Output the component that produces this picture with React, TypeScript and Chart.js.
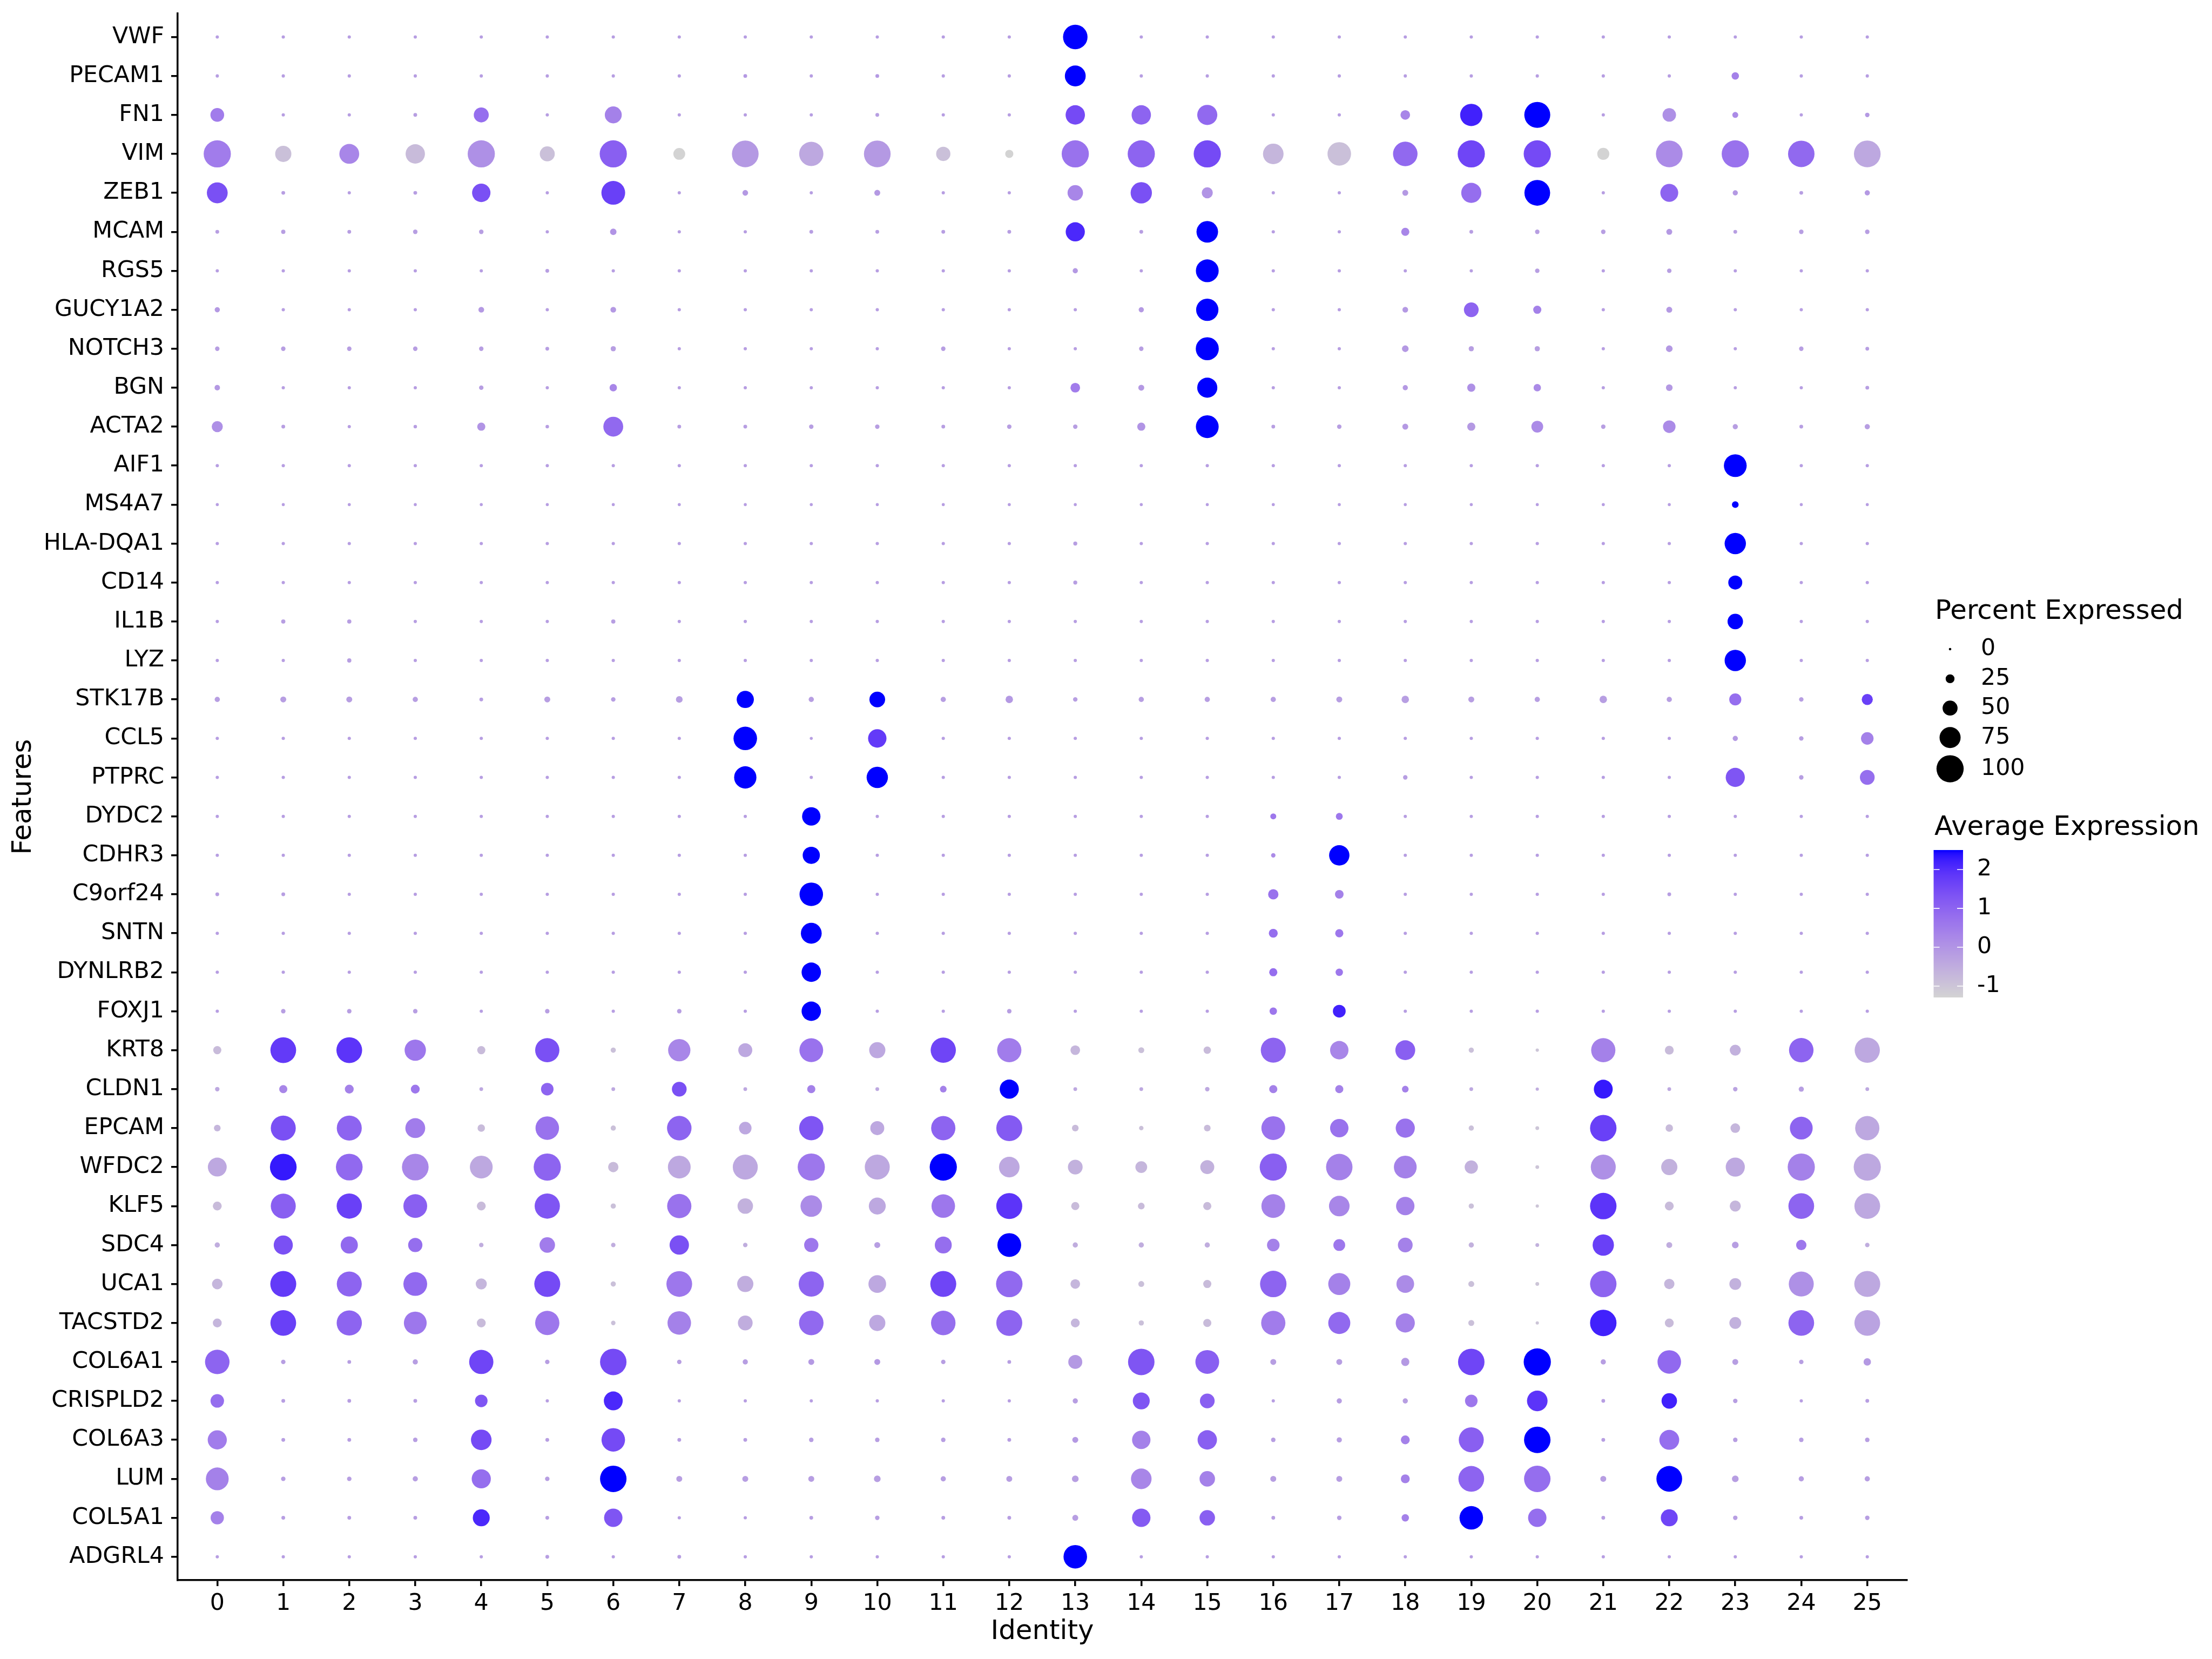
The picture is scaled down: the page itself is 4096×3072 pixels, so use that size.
import React, { useEffect, useRef } from 'react';
import { Chart, registerables } from 'chart.js';

Chart.register(...registerables);

const FONT = "'DejaVu Sans', 'Liberation Sans', sans-serif";

// ---------------- data ----------------
const identities = ['0','1','2','3','4','5','6','7','8','9','10','11','12','13','14','15','16','17','18','19','20','21','22','23','24','25'];
const features = ['VWF','PECAM1','FN1','VIM','ZEB1','MCAM','RGS5','GUCY1A2','NOTCH3','BGN','ACTA2','AIF1','MS4A7','HLA-DQA1','CD14','IL1B','LYZ','STK17B','CCL5','PTPRC','DYDC2','CDHR3','C9orf24','SNTN','DYNLRB2','FOXJ1','KRT8','CLDN1','EPCAM','WFDC2','KLF5','SDC4','UCA1','TACSTD2','COL6A1','CRISPLD2','COL6A3','LUM','COL5A1','ADGRL4'];

// percent expressed / average expression, one value per identity 0..25
const VWF_pct = [2,2,2,2,2,2,2,2,2, 2,2,2,2,89,2,2,2, 2,2,2,2,2,2,2,2,2];
const VWF_avg = [-0.2,-0.2,-0.2,-0.2,-0.2,-0.2,-0.2,-0.2,-0.2, -0.2,-0.2,-0.2,-0.2,2.5,-0.2,-0.2,-0.2, -0.2,-0.2,-0.2,-0.2,-0.2,-0.2,-0.2,-0.2,-0.2];
const PECAM1_pct = [2,2,2,2,2,2,2,2,4, 2,4,2,2,74,2,2,2, 2,2,2,2,2,2,19,2,2];
const PECAM1_avg = [-0.2,-0.2,-0.2,-0.2,-0.2,-0.2,-0.2,-0.2,-0.1, -0.2,-0.1,-0.2,-0.2,2.5,-0.2,-0.2,-0.2, -0.2,-0.2,-0.2,-0.2,-0.2,-0.2,0.4,-0.2,-0.2];
const FN1_pct = [45,2,2,4,50,2,58,2,2, 2,4,2,2,68,68,71,2, 2,28,80,95,2,44,13,2,7];
const FN1_avg = [0.5,-0.2,-0.2,-0.2,0.8,-0.2,0.4,-0.2,-0.2, -0.2,-0.2,-0.2,-0.2,1.5,1.0,0.9,-0.2, -0.2,0.3,2.2,2.5,-0.2,0.1,0.2,-0.2,-0.1];
const VIM_pct = [100,55,70,68,100,50,100,37,98, 88,98,47,22,100,100,100,73, 85,89,100,100,38,98,100,97,98];
const VIM_avg = [0.5,-0.9,0.3,-0.8,0.1,-0.9,1.1,-1.28,-0.1, -0.4,-0.1,-0.9,-1.28,0.7,1.0,1.5,-0.7, -0.9,0.9,1.6,1.5,-1.28,0.2,0.7,0.9,-0.4];
const ZEB1_pct = [74,4,2,4,64,2,86,2,12, 2,13,2,2,52,76,34,2, 2,13,71,94,2,62,10,4,10];
const ZEB1_avg = [1.4,-0.2,-0.2,-0.2,1.4,-0.2,1.7,-0.2,-0.1, -0.2,-0.1,-0.2,-0.2,0.3,1.4,0.0,-0.2, -0.2,-0.1,0.8,2.5,-0.2,1.0,-0.1,-0.2,-0.1];
const MCAM_pct = [4,6,4,7,7,2,15,2,2, 4,4,4,4,67,4,77,2, 2,22,4,7,7,13,4,7,7];
const MCAM_avg = [-0.2,-0.2,-0.2,-0.2,-0.2,-0.2,0.0,-0.2,-0.2, -0.2,-0.2,-0.2,-0.2,2.1,-0.2,2.5,-0.2, -0.2,0.3,-0.2,-0.2,-0.2,-0.1,-0.2,-0.2,-0.2];
const RGS5_pct = [2,2,2,2,2,4,2,2,2, 2,2,2,2,10,2,82,2, 2,2,2,7,2,7,2,2,2];
const RGS5_avg = [-0.2,-0.2,-0.2,-0.2,-0.2,-0.2,-0.2,-0.2,-0.2, -0.2,-0.2,-0.2,-0.2,-0.1,-0.2,2.5,-0.2, -0.2,-0.2,-0.2,-0.2,-0.2,-0.2,-0.2,-0.2,-0.2];
const GUCY1A2_pct = [10,2,2,2,12,2,12,2,2, 2,2,2,2,2,10,80,2, 2,12,49,22,2,13,2,2,2];
const GUCY1A2_avg = [-0.1,-0.2,-0.2,-0.2,-0.1,-0.2,-0.1,-0.2,-0.2, -0.2,-0.2,-0.2,-0.2,-0.2,-0.1,2.5,-0.2, -0.2,-0.1,1.0,0.4,-0.2,-0.1,-0.2,-0.2,-0.2];
const NOTCH3_pct = [7,7,7,7,7,4,10,2,2, 2,2,7,2,2,7,83,2, 2,16,10,10,2,16,2,7,4];
const NOTCH3_avg = [-0.2,-0.2,-0.2,-0.2,-0.2,-0.2,-0.2,-0.2,-0.2, -0.2,-0.2,-0.2,-0.2,-0.2,-0.2,2.5,-0.2, -0.2,-0.1,-0.2,-0.2,-0.2,-0.1,-0.2,-0.2,-0.2];
const BGN_pct = [11,2,2,2,7,2,19,2,2, 2,2,2,2,28,13,71,2, 2,10,22,19,2,16,2,2,4];
const BGN_avg = [-0.1,-0.2,-0.2,-0.2,-0.2,-0.2,0.3,-0.2,-0.2, -0.2,-0.2,-0.2,-0.2,0.5,-0.1,2.5,-0.2, -0.2,-0.1,0.1,0.2,-0.2,-0.1,-0.2,-0.2,-0.2];
const ACTA2_pct = [34,4,2,3,22,3,70,4,4, 7,7,4,7,7,22,82,4, 7,13,22,37,7,40,10,4,10];
const ACTA2_avg = [0.1,-0.2,-0.2,-0.2,0.0,-0.2,0.9,-0.2,-0.2, -0.2,-0.2,-0.2,-0.2,-0.2,0.0,2.5,-0.2, -0.2,-0.1,-0.1,0.2,-0.2,0.2,-0.2,-0.2,-0.2];
const AIF1_pct = [2,2,2,2,2,2,2,2,2, 2,2,2,2,2,2,2,2, 2,2,2,2,2,2,82,2,2];
const AIF1_avg = [-0.2,-0.2,-0.2,-0.2,-0.2,-0.2,-0.2,-0.2,-0.2, -0.2,-0.2,-0.2,-0.2,-0.2,-0.2,-0.2,-0.2, -0.2,-0.2,-0.2,-0.2,-0.2,-0.2,2.5,-0.2,-0.2];
const MS4A7_pct = [1,1,1,1,1,1,1,1,1, 1,1,1,1,1,1,1,1, 1,1,1,1,1,1,16,1,1];
const MS4A7_avg = [-0.2,-0.2,-0.2,-0.2,-0.2,-0.2,-0.2,-0.2,-0.2, -0.2,-0.2,-0.2,-0.2,-0.2,-0.2,-0.2,-0.2, -0.2,-0.2,-0.2,-0.2,-0.2,-0.2,2.5,-0.2,-0.2];
const HLA_DQA1_pct = [2,2,2,2,2,2,2,2,2, 2,2,2,2,5,2,2,2, 2,2,2,2,2,2,76,2,2];
const HLA_DQA1_avg = [-0.2,-0.2,-0.2,-0.2,-0.2,-0.2,-0.2,-0.2,-0.2, -0.2,-0.2,-0.2,-0.2,-0.2,-0.2,-0.2,-0.2, -0.2,-0.2,-0.2,-0.2,-0.2,-0.2,2.5,-0.2,-0.2];
const CD14_pct = [2,2,2,2,2,2,2,2,2, 2,2,2,2,5,2,2,2, 2,2,2,2,2,2,46,2,2];
const CD14_avg = [-0.2,-0.2,-0.2,-0.2,-0.2,-0.2,-0.2,-0.2,-0.2, -0.2,-0.2,-0.2,-0.2,-0.2,-0.2,-0.2,-0.2, -0.2,-0.2,-0.2,-0.2,-0.2,-0.2,2.5,-0.2,-0.2];
const IL1B_pct = [2,6,6,2,2,2,6,2,2, 2,2,2,2,2,2,2,2, 2,2,2,2,2,2,52,2,2];
const IL1B_avg = [-0.2,-0.2,-0.2,-0.2,-0.2,-0.2,-0.2,-0.2,-0.2, -0.2,-0.2,-0.2,-0.2,-0.2,-0.2,-0.2,-0.2, -0.2,-0.2,-0.2,-0.2,-0.2,-0.2,2.5,-0.2,-0.2];
const LYZ_pct = [2,2,6,2,2,2,2,2,2, 2,2,2,2,2,2,2,2, 2,2,2,2,2,2,76,2,2];
const LYZ_avg = [-0.2,-0.2,-0.2,-0.2,-0.2,-0.2,-0.2,-0.2,-0.2, -0.2,-0.2,-0.2,-0.2,-0.2,-0.2,-0.2,-0.2, -0.2,-0.2,-0.2,-0.2,-0.2,-0.2,2.5,-0.2,-0.2];
const STK17B_pct = [10,13,13,10,4,13,7,16,59, 10,53,10,19,7,10,10,10, 13,19,13,10,19,10,38,7,34];
const STK17B_avg = [-0.2,-0.2,-0.2,-0.2,-0.2,-0.2,-0.2,-0.2,2.5, -0.2,2.5,-0.2,-0.1,-0.2,-0.2,-0.2,-0.2, -0.2,-0.2,-0.2,-0.2,-0.2,-0.2,0.8,-0.2,1.7];
const CCL5_pct = [2,2,2,2,2,2,2,2,85, 1,64,2,2,2,2,2,2, 2,2,2,2,2,2,10,7,40];
const CCL5_avg = [-0.2,-0.2,-0.2,-0.2,-0.2,-0.2,-0.2,-0.2,2.5, -0.2,1.8,-0.2,-0.2,-0.2,-0.2,-0.2,-0.2, -0.2,-0.2,-0.2,-0.2,-0.2,-0.2,-0.1,-0.2,0.4];
const PTPRC_pct = [2,2,2,2,2,2,2,2,80, 2,76,2,2,2,2,2,2, 2,7,2,2,2,2,67,7,49];
const PTPRC_avg = [-0.2,-0.2,-0.2,-0.2,-0.2,-0.2,-0.2,-0.2,2.5, -0.2,2.5,-0.2,-0.2,-0.2,-0.2,-0.2,-0.2, -0.2,-0.2,-0.2,-0.2,-0.2,-0.2,1.3,-0.2,0.8];
const DYDC2_pct = [2,2,2,2,2,2,2,2,2, 64,2,2,2,2,2,2,13, 17,2,2,2,2,2,2,2,2];
const DYDC2_avg = [-0.2,-0.2,-0.2,-0.2,-0.2,-0.2,-0.2,-0.2,-0.2, 2.5,-0.2,-0.2,-0.2,-0.2,-0.2,-0.2,0.6, 0.6,-0.2,-0.2,-0.2,-0.2,-0.2,-0.2,-0.2,-0.2];
const CDHR3_pct = [2,2,2,2,2,2,2,2,2, 59,2,2,2,2,2,2,7, 72,2,2,2,2,2,2,2,2];
const CDHR3_avg = [-0.2,-0.2,-0.2,-0.2,-0.2,-0.2,-0.2,-0.2,-0.2, 2.5,-0.2,-0.2,-0.2,-0.2,-0.2,-0.2,0.2, 2.5,-0.2,-0.2,-0.2,-0.2,-0.2,-0.2,-0.2,-0.2];
const C9orf24_pct = [4,4,2,2,2,2,2,2,2, 85,2,2,2,2,2,2,31, 24,2,2,2,2,4,2,2,2];
const C9orf24_avg = [-0.2,-0.2,-0.2,-0.2,-0.2,-0.2,-0.2,-0.2,-0.2, 2.5,-0.2,-0.2,-0.2,-0.2,-0.2,-0.2,0.7, 0.4,-0.2,-0.2,-0.2,-0.2,-0.2,-0.2,-0.2,-0.2];
const SNTN_pct = [2,2,2,2,2,2,2,2,2, 74,2,2,2,2,2,2,25, 22,2,2,2,2,2,2,2,2];
const SNTN_avg = [-0.2,-0.2,-0.2,-0.2,-0.2,-0.2,-0.2,-0.2,-0.2, 2.5,-0.2,-0.2,-0.2,-0.2,-0.2,-0.2,0.8, 0.6,-0.2,-0.2,-0.2,-0.2,-0.2,-0.2,-0.2,-0.2];
const DYNLRB2_pct = [2,2,2,2,2,2,2,2,2, 68,2,2,2,2,2,2,22, 19,2,2,2,2,2,2,2,2];
const DYNLRB2_avg = [-0.2,-0.2,-0.2,-0.2,-0.2,-0.2,-0.2,-0.2,-0.2, 2.5,-0.2,-0.2,-0.2,-0.2,-0.2,-0.2,0.8, 0.6,-0.2,-0.2,-0.2,-0.2,-0.2,-0.2,-0.2,-0.2];
const FOXJ1_pct = [2,7,7,7,2,7,2,7,2, 68,2,2,7,2,2,2,19, 41,2,2,2,2,2,2,2,2];
const FOXJ1_avg = [-0.2,-0.2,-0.2,-0.2,-0.2,-0.2,-0.2,-0.2,-0.2, 2.5,-0.2,-0.2,-0.2,-0.2,-0.2,-0.2,0.6, 2.2,-0.2,-0.2,-0.2,-0.2,-0.2,-0.2,-0.2,-0.2];
const KRT8_pct = [22,94,94,76,22,88,10,80,46, 86,55,92,88,28,13,19,91, 64,70,10,2,88,25,34,89,92];
const KRT8_avg = [-0.8,1.8,1.9,0.6,-0.8,1.4,-0.9,0.3,-0.4, 0.7,-0.4,1.6,0.5,-0.7,-0.9,-0.8,1.0, 0.3,1.1,-0.9,-1.0,0.4,-0.8,-0.6,1.0,-0.4];
const CLDN1_pct = [7,22,25,25,4,40,4,49,4, 22,4,16,67,4,4,7,22, 22,16,4,2,66,4,7,10,4];
const CLDN1_avg = [-0.4,0.3,0.4,0.6,-0.4,1.0,-0.4,1.4,-0.4, 0.4,-0.4,0.4,2.5,-0.4,-0.4,-0.4,0.4, 0.4,0.4,-0.4,-0.5,2.3,-0.4,-0.3,-0.2,-0.4];
const EPCAM_pct = [16,91,91,70,19,85,10,89,40, 88,46,88,95,16,7,16,86, 64,67,10,4,97,19,28,82,88];
const EPCAM_avg = [-0.7,1.4,1.0,0.5,-0.8,0.7,-0.9,1.0,-0.4, 1.3,-0.4,1.0,1.2,-0.8,-0.9,-0.8,0.7, 0.7,0.7,-0.9,-1.0,1.7,-0.8,-0.7,1.0,-0.4];
const WFDC2_pct = [66,98,98,98,82,100,31,82,91, 100,91,100,73,49,37,46,100, 97,82,43,4,91,55,67,100,100];
const WFDC2_avg = [-0.4,2.3,0.9,0.3,-0.4,1.0,-0.8,-0.4,-0.4, 0.6,-0.4,2.5,-0.4,-0.6,-0.7,-0.6,1.1, 0.4,0.4,-0.6,-1.0,0.1,-0.6,-0.4,0.4,-0.4];
const KLF5_pct = [25,91,92,86,25,92,10,88,52, 77,58,85,95,22,16,22,86, 73,64,10,2,97,25,34,94,94];
const KLF5_avg = [-0.8,1.1,1.7,1.1,-0.8,1.3,-0.9,0.7,-0.6, 0.2,-0.4,0.6,1.9,-0.8,-0.8,-0.8,0.4, 0.3,0.4,-0.9,-1.0,1.9,-0.8,-0.7,1.0,-0.4];
const SDC4_pct = [10,67,59,47,7,52,7,68,7, 47,13,58,86,10,10,10,40, 37,49,10,4,76,13,16,31,7];
const SDC4_avg = [-0.5,1.4,0.9,0.8,-0.5,0.5,-0.5,1.4,-0.5, 0.6,-0.2,0.8,2.5,-0.5,-0.5,-0.5,0.4, 0.6,0.4,-0.6,-0.6,1.7,-0.5,-0.2,0.6,-0.5];
const UCA1_pct = [32,95,91,86,34,95,10,94,55, 92,61,95,97,28,13,22,97, 79,61,13,4,97,31,37,91,95];
const UCA1_avg = [-0.7,1.8,1.0,0.9,-0.7,1.5,-0.9,0.6,-0.5, 1.0,-0.4,1.6,0.9,-0.7,-0.9,-0.8,1.0, 0.4,0.2,-0.9,-1.0,1.0,-0.7,-0.6,0.1,-0.4];
const TACSTD2_pct = [25,94,92,82,25,88,7,85,49, 89,55,89,95,25,10,22,88, 79,67,13,2,97,25,37,94,94];
const TACSTD2_avg = [-0.7,1.7,1.0,0.6,-0.8,0.6,-0.9,0.4,-0.5, 0.9,-0.4,0.8,1.0,-0.7,-0.9,-0.8,0.5, 0.9,0.4,-0.9,-1.0,2.2,-0.8,-0.6,1.0,-0.3];
const COL6A1_pct = [89,7,4,10,88,7,97,7,10, 13,13,7,4,46,97,86,13, 13,22,97,100,10,85,13,7,19];
const COL6A1_avg = [1.0,-0.2,-0.2,-0.2,1.6,-0.2,1.5,-0.2,-0.2, -0.1,-0.1,-0.2,-0.2,-0.1,1.3,1.1,-0.2, -0.2,-0.1,1.6,2.5,-0.2,0.9,-0.2,-0.2,-0.1];
const CRISPLD2_pct = [44,4,4,4,40,2,66,2,2, 2,2,2,2,10,58,49,2, 10,10,40,73,4,52,7,2,4];
const CRISPLD2_avg = [0.8,-0.2,-0.2,-0.2,1.3,-0.2,2.1,-0.2,-0.2, -0.2,-0.2,-0.2,-0.2,-0.2,1.3,1.1,-0.2, -0.2,-0.2,0.6,1.9,-0.2,2.2,-0.2,-0.2,-0.2];
const COL6A3_pct = [67,4,4,7,73,4,85,4,4, 7,7,7,4,13,64,68,7, 10,25,91,97,4,70,7,7,7];
const COL6A3_avg = [0.5,-0.2,-0.2,-0.2,1.5,-0.2,1.5,-0.2,-0.2, -0.2,-0.2,-0.2,-0.2,-0.1,0.4,1.1,-0.2, -0.2,0.4,1.1,2.5,-0.2,0.8,-0.2,-0.2,-0.2];
const LUM_pct = [82,7,7,10,67,7,97,13,13, 13,16,10,13,16,73,52,13, 13,25,94,97,13,94,16,10,10];
const LUM_avg = [0.4,-0.2,-0.2,-0.2,0.8,-0.2,2.5,-0.2,-0.2, -0.2,-0.2,-0.2,-0.2,-0.2,0.3,0.4,-0.2, -0.2,0.4,1.0,0.8,-0.2,2.5,-0.2,-0.2,-0.2];
const COL5A1_pct = [43,4,4,4,58,4,64,2,2, 4,7,4,4,13,64,52,4, 7,19,85,64,4,58,7,4,7];
const COL5A1_avg = [0.4,-0.2,-0.2,-0.2,2.1,-0.2,1.3,-0.2,-0.2, -0.2,-0.2,-0.2,-0.2,-0.2,1.2,1.1,-0.2, -0.2,0.4,2.5,0.8,-0.2,1.6,-0.2,-0.2,-0.2];
const ADGRL4_pct = [2,2,2,2,2,4,2,4,2, 2,2,2,2,85,2,2,2, 2,2,2,2,2,2,2,2,2];
const ADGRL4_avg = [-0.2,-0.2,-0.2,-0.2,-0.2,-0.2,-0.2,-0.2,-0.2, -0.2,-0.2,-0.2,-0.2,2.5,-0.2,-0.2,-0.2, -0.2,-0.2,-0.2,-0.2,-0.2,-0.2,-0.2,-0.2,-0.2];

const pctRows = [VWF_pct, PECAM1_pct, FN1_pct, VIM_pct, ZEB1_pct, MCAM_pct, RGS5_pct, GUCY1A2_pct, NOTCH3_pct, BGN_pct, ACTA2_pct, AIF1_pct, MS4A7_pct, HLA_DQA1_pct, CD14_pct, IL1B_pct, LYZ_pct, STK17B_pct, CCL5_pct, PTPRC_pct, DYDC2_pct, CDHR3_pct, C9orf24_pct, SNTN_pct, DYNLRB2_pct, FOXJ1_pct, KRT8_pct, CLDN1_pct, EPCAM_pct, WFDC2_pct, KLF5_pct, SDC4_pct, UCA1_pct, TACSTD2_pct, COL6A1_pct, CRISPLD2_pct, COL6A3_pct, LUM_pct, COL5A1_pct, ADGRL4_pct];
const avgRows = [VWF_avg, PECAM1_avg, FN1_avg, VIM_avg, ZEB1_avg, MCAM_avg, RGS5_avg, GUCY1A2_avg, NOTCH3_avg, BGN_avg, ACTA2_avg, AIF1_avg, MS4A7_avg, HLA_DQA1_avg, CD14_avg, IL1B_avg, LYZ_avg, STK17B_avg, CCL5_avg, PTPRC_avg, DYDC2_avg, CDHR3_avg, C9orf24_avg, SNTN_avg, DYNLRB2_avg, FOXJ1_avg, KRT8_avg, CLDN1_avg, EPCAM_avg, WFDC2_avg, KLF5_avg, SDC4_avg, UCA1_avg, TACSTD2_avg, COL6A1_avg, CRISPLD2_avg, COL6A3_avg, LUM_avg, COL5A1_avg, ADGRL4_avg];

const sizeBreaks = [0, 25, 50, 75, 100];
const colorBreaks = [2, 1, 0, -1];
const COLOR_MIN = -1.29;
const COLOR_MAX = 2.5;

// ---------------- colour (Lab interpolation lightgrey -> blue) ----------------
function toLin(c: number) { const s = c / 255; return s <= 0.04045 ? s / 12.92 : Math.pow((s + 0.055) / 1.055, 2.4); }
function fromLin(c: number) { const s = c <= 0.0031308 ? 12.92 * c : 1.055 * Math.pow(Math.max(c, 0), 1 / 2.4) - 0.055; return Math.round(Math.min(1, Math.max(0, s)) * 255); }
const Xn = 0.95047, Yn = 1.0, Zn = 1.08883;
const DD = 6 / 29;
function fLab(t: number) { return t > DD * DD * DD ? Math.cbrt(t) : t / (3 * DD * DD) + 4 / 29; }
function fInv(t: number) { return t > DD ? t * t * t : 3 * DD * DD * (t - 4 / 29); }
function rgbToLab(rgb: number[]) {
  const r = toLin(rgb[0]), g = toLin(rgb[1]), b = toLin(rgb[2]);
  const X = 0.4124564 * r + 0.3575761 * g + 0.1804375 * b;
  const Y = 0.2126729 * r + 0.7151522 * g + 0.0721750 * b;
  const Z = 0.0193339 * r + 0.1191920 * g + 0.9503041 * b;
  const fx = fLab(X / Xn), fy = fLab(Y / Yn), fz = fLab(Z / Zn);
  return [116 * fy - 16, 500 * (fx - fy), 200 * (fy - fz)];
}
function labToRgb(lab: number[]) {
  const fy = (lab[0] + 16) / 116, fx = fy + lab[1] / 500, fz = fy - lab[2] / 200;
  const X = Xn * fInv(fx), Y = Yn * fInv(fy), Z = Zn * fInv(fz);
  const r = 3.2404542 * X - 1.5371385 * Y - 0.4985314 * Z;
  const g = -0.9692660 * X + 1.8760108 * Y + 0.0415560 * Z;
  const b = 0.0556434 * X - 0.2040259 * Y + 1.0572252 * Z;
  return [fromLin(r), fromLin(g), fromLin(b)];
}
const LOW_LAB = rgbToLab([211, 211, 211]);
const HIGH_LAB = rgbToLab([0, 0, 255]);
function colorFor(v: number) {
  let t = (v - COLOR_MIN) / (COLOR_MAX - COLOR_MIN);
  t = Math.max(0, Math.min(1, t));
  const lab = [0, 1, 2].map((i) => LOW_LAB[i] + (HIGH_LAB[i] - LOW_LAB[i]) * t);
  const c = labToRgb(lab);
  return 'rgb(' + c[0] + ',' + c[1] + ',' + c[2] + ')';
}
function radiusFor(p: number) { return 2.56 + 0.2261 * p; }

// ---------------- legend plugin ----------------
const legendPlugin = {
  id: 'dotLegend',
  beforeDraw(chart: any) {
    const ctx = chart.ctx;
    ctx.save();
    ctx.fillStyle = '#ffffff';
    ctx.fillRect(0, 0, chart.width, chart.height);
    ctx.restore();
  },
  afterDraw(chart: any) {
    const ctx = chart.ctx as CanvasRenderingContext2D;
    ctx.save();
    ctx.fillStyle = '#000';
    ctx.textAlign = 'left';
    ctx.textBaseline = 'alphabetic';
    ctx.font = '49.8px ' + FONT;
    ctx.fillText('Percent Expressed', 3583, 1145.5);
    const keyY = [1202, 1256.9, 1311.2, 1365.8, 1423.6];
    ctx.font = '42.7px ' + FONT;
    ctx.textBaseline = 'middle';
    for (let i = 0; i < sizeBreaks.length; i++) {
      const p = sizeBreaks[i];
      const r = p === 0 ? 2.3 : radiusFor(p);
      ctx.beginPath();
      ctx.arc(3611, keyY[i], r, 0, Math.PI * 2);
      ctx.fillStyle = '#000';
      ctx.fill();
      ctx.fillText(String(p), 3668, keyY[i]);
    }
    ctx.textBaseline = 'alphabetic';
    ctx.font = '49.8px ' + FONT;
    ctx.fillText('Average Expression', 3582, 1545.5);
    const barX = 3580.5, barW = 54.5, barTop = 1574.3, barBot = 1846.8;
    const valToY = (v: number) => barTop + ((COLOR_MAX - v) / (COLOR_MAX - COLOR_MIN)) * (barBot - barTop);
    for (let y = Math.floor(barTop); y < barBot; y++) {
      const v = COLOR_MAX - ((y + 0.5 - barTop) / (barBot - barTop)) * (COLOR_MAX - COLOR_MIN);
      ctx.fillStyle = colorFor(v);
      ctx.fillRect(barX, y, barW, 1);
    }
    ctx.strokeStyle = '#ffffff';
    ctx.lineWidth = 1.6;
    ctx.font = '42.7px ' + FONT;
    ctx.textBaseline = 'middle';
    ctx.fillStyle = '#000';
    for (let i = 0; i < colorBreaks.length; i++) {
      const v = colorBreaks[i];
      const y = valToY(v);
      ctx.beginPath();
      ctx.moveTo(barX, y); ctx.lineTo(barX + 11, y);
      ctx.moveTo(barX + barW - 11, y); ctx.lineTo(barX + barW, y);
      ctx.stroke();
      ctx.fillText(String(v), 3661, y);
    }
    ctx.restore();
  },
};

function labelFrom(list: string[], v: any) {
  const i = Math.round(Number(v));
  return i >= 0 && i < list.length ? list[i] : '';
}

export default function App() {
  const ref = useRef<HTMLCanvasElement>(null);
  useEffect(() => {
    const canvas = ref.current;
    if (!canvas) return;
    const points: any[] = [];
    const colors: string[] = [];
    for (let fi = 0; fi < features.length; fi++) {
      for (let ci = 0; ci < identities.length; ci++) {
        points.push({ x: ci, y: fi, r: radiusFor(pctRows[fi][ci]) });
        colors.push(colorFor(avgRows[fi][ci]));
      }
    }
    const chart = new Chart(canvas, {
      type: 'bubble',
      data: {
        datasets: [{
          data: points,
          backgroundColor: colors,
          borderWidth: 0,
          hoverBorderWidth: 0,
        }],
      },
      options: {
        responsive: false,
        maintainAspectRatio: false,
        animation: false,
        devicePixelRatio: 1,
        events: [],
        layout: { padding: { left: 14, top: 21, right: 565, bottom: 20 } },
        plugins: { legend: { display: false }, tooltip: { enabled: false } },
        scales: {
          x: {
            type: 'linear',
            position: 'bottom',
            min: -0.6,
            max: 25.6,
            ticks: {
              stepSize: 1, autoSkip: false, maxRotation: 0, minRotation: 0, color: '#000', padding: 7,
              font: { family: FONT, size: 42.7 },
              callback: (v: any) => labelFrom(identities, v),
            },
            afterBuildTicks: (s: any) => { s.ticks = identities.map((_, i) => ({ value: i })); },
            afterFit: (s: any) => { s.height = 126; s.paddingLeft = 0; s.paddingRight = 0; },
            grid: { display: true, drawOnChartArea: false, drawTicks: true, tickLength: 11, tickWidth: 3.5, tickColor: '#000', color: '#000', lineWidth: 3.5 },
            border: { display: true, color: '#000', width: 3.5 },
            title: { display: true, text: 'Identity', color: '#000', font: { family: FONT, size: 49.8 }, padding: { top: 0, bottom: 0 } },
          },
          y: {
            type: 'linear',
            position: 'left',
            reverse: true,
            min: -0.6,
            max: 39.6,
            ticks: {
              stepSize: 1, autoSkip: false, color: '#000', padding: 13,
              font: { family: FONT, size: 42.7 },
              callback: (v: any) => labelFrom(features, v),
            },
            afterBuildTicks: (s: any) => { s.ticks = features.map((_, i) => ({ value: i })); },
            afterFit: (s: any) => { s.width = 315; s.paddingTop = 0; s.paddingBottom = 0; },
            grid: { display: true, drawOnChartArea: false, drawTicks: true, tickLength: 12, tickWidth: 3.5, tickColor: '#000', color: '#000', lineWidth: 3.5 },
            border: { display: true, color: '#000', width: 3.5 },
            title: { display: true, text: 'Features', color: '#000', font: { family: FONT, size: 49.8 }, padding: { top: 0, bottom: 0 } },
          },
        },
      },
      plugins: [legendPlugin],
    } as any);
    return () => { chart.destroy(); };
  }, []);
  return (
    <div style={{ position: 'absolute', left: 0, top: 0, width: 4096, height: 3072, background: '#fff' }}>
      <canvas ref={ref} width={4096} height={3072} style={{ display: 'block', width: 4096, height: 3072 }} />
    </div>
  );
}
